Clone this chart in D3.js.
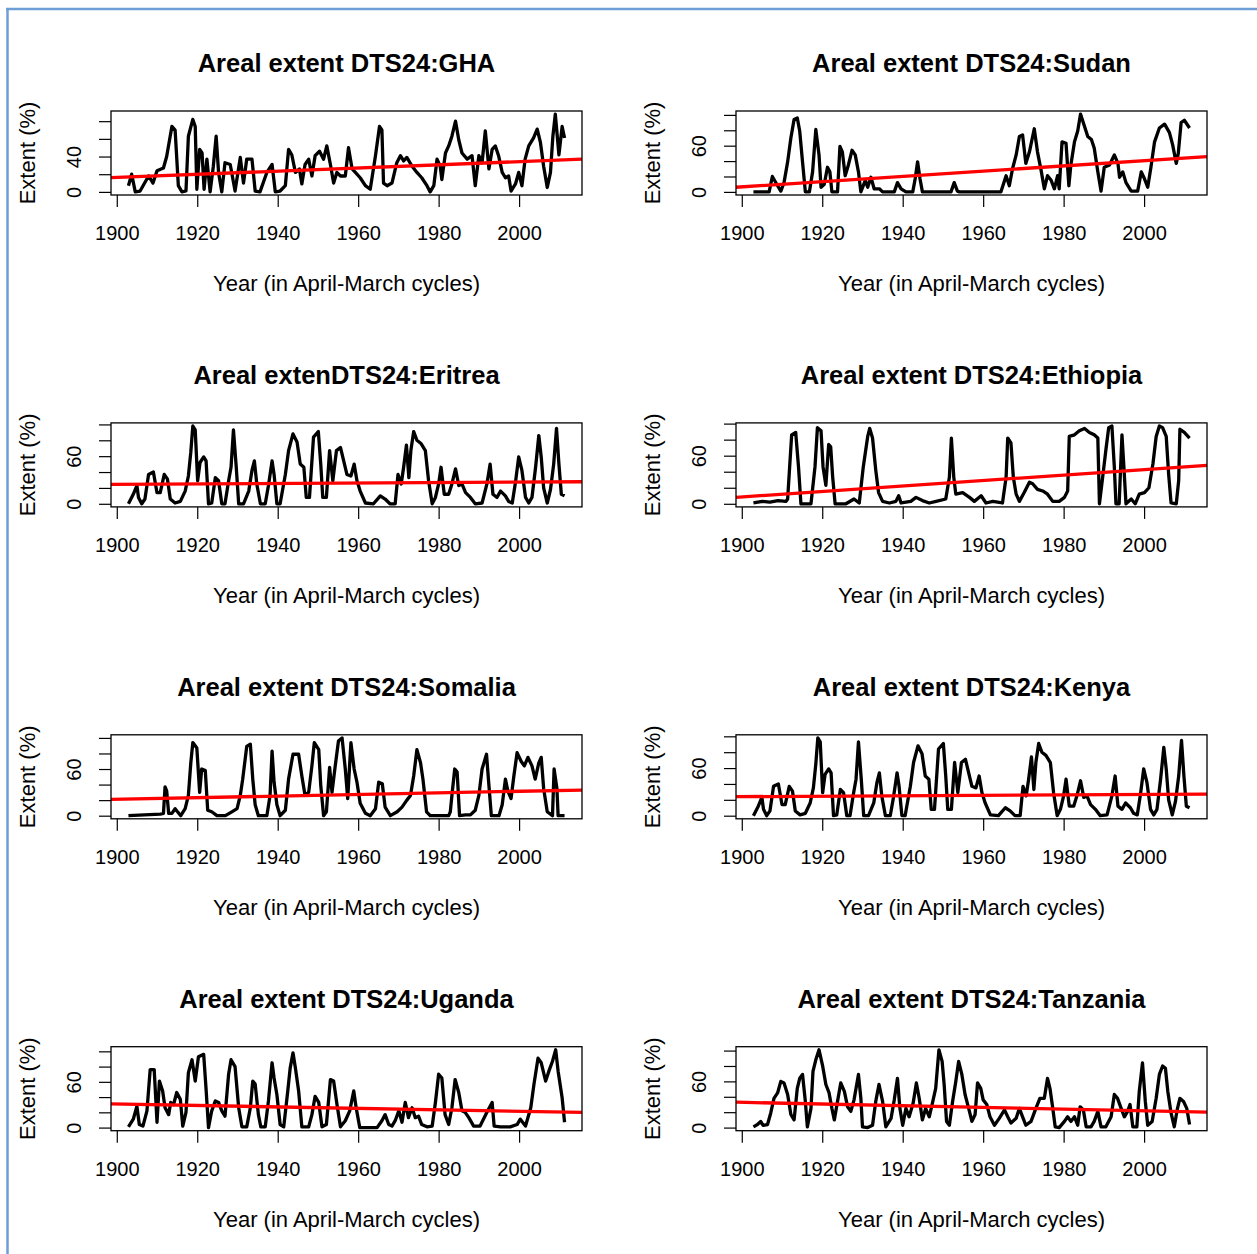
<!DOCTYPE html>
<html>
<head>
<meta charset="utf-8">
<script src="https://cdn.jsdelivr.net/npm/d3@7"></script>
<style>
  body { margin: 0; background: #fff; }
  text { font-family: "Liberation Sans", Arial, sans-serif; fill: #000; }
</style>
</head>
<body>
<div class="chart"></div>
<script>
var svgWidth = 1257;
var svgHeight = 1254;

// panel titles, in plotting order (2 columns x 4 rows)
var titles = [
  "Areal extent DTS24:GHA", "Areal extent DTS24:Sudan",
  "Areal extenDTS24:Eritrea", "Areal extent DTS24:Ethiopia",
  "Areal extent DTS24:Somalia", "Areal extent DTS24:Kenya",
  "Areal extent DTS24:Uganda", "Areal extent DTS24:Tanzania"
];

// [year, extent %]
var ghaSeries = [[1902.9,7],[1903.7,20],[1904.6,0],[1905.8,1],[1907.9,18],[1909,10],[1910,24],[1911.6,27],[1912.4,40],[1913.7,74],[1914.5,70],[1915.3,7],[1916.2,0],[1917.2,1],[1917.8,63],[1918.9,82],[1919.5,74],[1919.9,3],[1920.6,48],[1921.2,44],[1921.7,3],[1922.4,37],[1923.2,0],[1924,29],[1924.7,63],[1925.3,22],[1926.1,0],[1926.9,33],[1928.2,31],[1929.4,1],[1930.7,39],[1931.5,10],[1932.3,37],[1933.6,37],[1934.4,1],[1935.6,0],[1937.3,22],[1938.6,31],[1939.4,0],[1940.6,1],[1941.9,7],[1942.7,48],[1943.5,42],[1944.4,22],[1945.4,26],[1946,9],[1946.8,31],[1947.7,37],[1948.5,18],[1949.3,41],[1950.4,46],[1951.4,37],[1952.2,52],[1953.1,31],[1953.9,10],[1954.7,22],[1955.6,18],[1956.8,18],[1957.6,50],[1958.5,26],[1959.3,22],[1960.5,16],[1961.8,7],[1963,3],[1964.3,41],[1965.3,74],[1965.9,70],[1966.3,10],[1967.2,7],[1968.4,10],[1969.6,33],[1970.5,41],[1971.3,35],[1972.1,39],[1973.4,29],[1974.6,22],[1975.8,16],[1977.1,7],[1977.9,0],[1978.8,7],[1979.6,37],[1980.4,29],[1980.8,14],[1981.7,44],[1982.5,52],[1983.3,63],[1984.2,80],[1985,59],[1985.8,44],[1987.1,37],[1988.3,41],[1989.1,7],[1990,41],[1990.8,33],[1991.6,69],[1992.5,26],[1993.3,48],[1994.1,52],[1994.9,41],[1995.8,22],[1996.6,16],[1997.4,18],[1998,1],[1999.1,9],[1999.9,22],[2000.7,7],[2001.5,37],[2002.4,52],[2003.6,61],[2004.5,71],[2005.3,56],[2006.1,29],[2007,5],[2007.8,22],[2008.4,63],[2009,88],[2009.9,42],[2010.7,74],[2011.3,61]];

var sudanSeries = [[1902.9,0],[1906.8,0],[1907.6,20],[1908.9,8],[1909.7,1],[1910.5,12],[1911.4,39],[1912.2,70],[1913,94],[1913.8,96],[1914.4,79],[1915.1,39],[1915.8,0],[1916.8,0],[1917.6,26],[1918.4,81],[1919.2,48],[1919.7,6],[1920.5,10],[1921.3,32],[1921.9,26],[1922.4,0],[1923.8,0],[1924.4,59],[1925,52],[1925.7,21],[1926.5,35],[1927.4,54],[1928.2,48],[1929,26],[1929.6,0],[1930.7,15],[1931.3,6],[1932.1,19],[1932.9,4],[1934.2,4],[1935,0],[1937.9,0],[1938.7,12],[1939.6,4],[1940.8,0],[1942.5,0],[1943.1,17],[1943.7,39],[1944.3,17],[1944.9,0],[1952,0],[1952.8,12],[1953.6,1],[1954.1,0],[1964.4,0],[1965.7,21],[1966.5,8],[1967.3,30],[1968.2,48],[1969,72],[1969.8,74],[1970.6,37],[1971.5,52],[1972.7,82],[1973.5,52],[1974.4,28],[1975.2,4],[1976,21],[1976.9,15],[1977.7,4],[1978.5,21],[1978.9,4],[1979.6,65],[1980.6,63],[1981.3,8],[1981.8,35],[1982.7,65],[1983.5,79],[1984.2,101],[1985.2,85],[1986,72],[1986.9,68],[1987.6,57],[1988.5,26],[1989.3,1],[1990.1,32],[1991.4,35],[1992.6,48],[1993.5,37],[1993.9,19],[1994.7,26],[1995.5,12],[1996.8,1],[1998.4,1],[1999.3,26],[2000.1,17],[2000.9,6],[2001.7,32],[2002.6,65],[2003.8,83],[2005.1,88],[2006.3,77],[2007.1,61],[2008,37],[2008.5,50],[2009.2,90],[2010,93],[2011.3,83]];

var eritreaSeries = [[1902.9,0],[1904.1,12],[1905,23],[1905.4,8],[1906.2,0],[1907,6],[1907.9,37],[1909.1,40],[1910,14],[1910.8,14],[1911.8,37],[1912.6,31],[1913.3,6],[1914.5,1],[1915.8,3],[1917,16],[1917.8,35],[1918.4,65],[1918.9,98],[1919.5,93],[1920.1,29],[1920.7,52],[1921.6,59],[1922.2,54],[1922.8,0],[1923.6,1],[1924.5,33],[1925.3,29],[1926.1,0],[1926.9,0],[1927.8,29],[1928.4,46],[1929,93],[1929.7,46],[1930.3,0],[1931.5,0],[1932.8,16],[1933.6,42],[1934.2,54],[1934.8,25],[1935.7,0],[1936.9,0],[1937.7,23],[1938.6,54],[1939.1,37],[1939.8,0],[1940.6,0],[1941.9,37],[1942.7,67],[1943.8,88],[1944.8,78],[1945.6,50],[1946.5,46],[1947.1,8],[1947.9,8],[1948.9,84],[1950.1,91],[1950.7,50],[1951.2,8],[1952.1,8],[1952.9,67],[1953.7,29],[1954.6,67],[1955.6,71],[1956.4,54],[1957.2,37],[1958.2,35],[1959,50],[1959.7,29],[1960.5,16],[1961.8,1],[1963.8,0],[1965.5,10],[1966.7,6],[1967.9,0],[1969.2,0],[1969.9,37],[1970.7,25],[1971.3,46],[1972,74],[1972.6,33],[1973.1,67],[1973.8,91],[1974.6,80],[1975.6,76],[1976.7,67],[1977.5,29],[1978.4,0],[1979.2,8],[1980,25],[1980.6,46],[1981.4,12],[1982.5,12],[1983.3,25],[1984.2,44],[1985,23],[1985.8,25],[1986.7,14],[1987.9,8],[1989.1,0],[1990.8,1],[1992,25],[1992.8,50],[1993.5,12],[1994.5,8],[1995.4,16],[1996.6,10],[1997.4,3],[1998.3,1],[1999.1,27],[1999.9,59],[2000.7,42],[2001.6,8],[2002.4,1],[2003.2,8],[2004.1,46],[2004.9,86],[2005.5,59],[2006.1,20],[2007,1],[2007.8,18],[2008.6,50],[2009.3,95],[2009.9,50],[2010.5,12],[2011.3,10]];

var ethiopiaSeries = [[1902.9,1],[1905.1,3],[1907,2],[1909,4],[1911,3],[1911.4,6],[1911.9,46],[1912.4,86],[1913.4,89],[1914.1,46],[1914.7,0],[1917.2,0],[1918.2,46],[1918.8,95],[1919.7,91],[1920.2,46],[1920.9,23],[1921.6,74],[1922.1,71],[1922.6,33],[1923.2,0],[1925.9,0],[1927.9,6],[1929.2,1],[1930.2,46],[1931.3,84],[1931.8,94],[1932.5,82],[1933.3,42],[1934,14],[1935,3],[1936.7,1],[1938.3,3],[1939,10],[1939.6,1],[1942,3],[1943.3,8],[1944.9,4],[1946.6,1],[1948.3,3],[1950.7,6],[1951.6,33],[1952.1,82],[1952.7,33],[1953.2,12],[1954.9,14],[1956.6,8],[1957.8,3],[1959.5,10],[1960.7,1],[1962.4,3],[1964.8,1],[1965.7,33],[1966.1,82],[1966.9,76],[1967.5,33],[1968.2,12],[1969,3],[1970.2,14],[1971.5,27],[1972.3,25],[1973.5,18],[1974.8,16],[1976,12],[1977.3,3],[1978.9,3],[1980.2,8],[1981,16],[1981.4,84],[1982.7,86],[1983.9,91],[1985.2,94],[1986.4,89],[1987.6,86],[1988.5,82],[1988.9,0],[1989.7,33],[1990.5,67],[1991.2,95],[1992,97],[1992.6,46],[1993,0],[1993.8,0],[1994.5,86],[1995,44],[1995.5,0],[1996.8,6],[1997.8,0],[1998.8,12],[2000.1,14],[2001.2,20],[2002.2,50],[2003,84],[2003.8,97],[2004.6,95],[2005.5,84],[2006.1,37],[2006.7,1],[2008,0],[2008.6,29],[2008.9,93],[2010,89],[2011.3,82]];

var somaliaSeries = [[1902.9,0],[1910.8,2],[1911.6,3],[1912,37],[1912.4,32],[1912.9,3],[1913.7,3],[1914.5,9],[1915.1,5],[1915.9,0],[1917,9],[1917.8,26],[1918.4,68],[1918.9,94],[1919.9,87],[1920.6,30],[1921.1,60],[1922,58],[1922.6,7],[1923.6,5],[1924.9,0],[1927,0],[1928.6,5],[1929.9,9],[1930.7,26],[1931.3,47],[1932.3,89],[1933.2,92],[1933.8,47],[1934.4,14],[1935.2,0],[1937.3,0],[1938.1,26],[1938.6,83],[1939.1,43],[1939.8,14],[1940.6,0],[1941.9,7],[1942.7,47],[1943.8,79],[1945.2,79],[1946,51],[1946.8,26],[1947.7,30],[1948.5,64],[1949.1,94],[1950.2,85],[1950.7,39],[1951.4,0],[1952.1,5],[1952.9,62],[1953.5,30],[1954.3,64],[1955.1,96],[1956,100],[1956.8,60],[1957.4,22],[1958.2,94],[1959,60],[1959.7,43],[1960.5,16],[1961.8,3],[1963,0],[1964.3,9],[1965.1,43],[1966,41],[1966.7,11],[1968,0],[1969.7,5],[1970.9,11],[1972.1,20],[1973,26],[1973.8,51],[1974.6,85],[1975.5,68],[1976.1,47],[1977,5],[1977.9,0],[1982.5,0],[1982.9,5],[1983.3,26],[1984,60],[1984.6,56],[1985.2,0],[1986.7,1],[1987.9,1],[1989.1,7],[1990,26],[1990.8,60],[1991.9,79],[1992.5,39],[1993.1,0],[1995,0],[1995.8,14],[1996.6,47],[1997.2,32],[1998,22],[1998.7,51],[1999.5,81],[2000.5,70],[2001.3,64],[2002.2,75],[2003.2,64],[2004,47],[2004.9,68],[2005.5,75],[2006.1,35],[2007,5],[2008.3,0],[2008.7,60],[2009.4,35],[2009.7,0],[2011.3,0]];

var kenyaSeries = [[1902.9,0],[1904.1,12],[1905,23],[1905.4,8],[1906.2,0],[1907,6],[1907.9,37],[1909.1,40],[1910,14],[1910.8,14],[1911.8,37],[1912.6,31],[1913.3,6],[1914.5,1],[1915.8,3],[1917,16],[1917.8,35],[1918.4,65],[1918.9,98],[1919.5,93],[1920.1,29],[1920.7,52],[1921.6,59],[1922.2,54],[1922.8,0],[1923.6,1],[1924.5,33],[1925.3,29],[1926.1,0],[1926.9,0],[1927.8,29],[1928.4,46],[1929,93],[1929.7,46],[1930.3,0],[1931.5,0],[1932.8,16],[1933.6,42],[1934.2,54],[1934.8,25],[1935.7,0],[1936.9,0],[1937.7,23],[1938.6,54],[1939.1,37],[1939.8,0],[1940.6,0],[1941.9,37],[1942.7,67],[1943.8,88],[1944.8,78],[1945.6,50],[1946.5,46],[1947.1,8],[1947.9,8],[1948.9,84],[1950.1,91],[1950.7,50],[1951.2,8],[1952.1,8],[1952.9,67],[1953.7,29],[1954.6,67],[1955.6,71],[1956.4,54],[1957.2,37],[1958.2,35],[1959,50],[1959.7,29],[1960.5,16],[1961.8,1],[1963.8,0],[1965.5,10],[1966.7,6],[1967.9,0],[1969.2,0],[1969.9,37],[1970.7,25],[1971.3,46],[1972,74],[1972.6,33],[1973.1,67],[1973.8,91],[1974.6,80],[1975.6,76],[1976.7,67],[1977.5,29],[1978.4,0],[1979.2,8],[1980,25],[1980.6,46],[1981.4,12],[1982.5,12],[1983.3,25],[1984.2,44],[1985,23],[1985.8,25],[1986.7,14],[1987.9,8],[1989.1,0],[1990.8,1],[1992,25],[1992.8,50],[1993.5,12],[1994.5,8],[1995.4,16],[1996.6,10],[1997.4,3],[1998.3,1],[1999.1,27],[1999.9,59],[2000.7,42],[2001.6,8],[2002.4,1],[2003.2,8],[2004.1,46],[2004.9,86],[2005.5,59],[2006.1,20],[2007,1],[2007.8,18],[2008.6,50],[2009.3,95],[2009.9,50],[2010.5,12],[2011.3,10]];

var ugandaSeries = [[1902.9,1],[1904.1,11],[1905,28],[1905.6,4],[1906.5,2],[1907.5,22],[1908.3,76],[1909.3,76],[1910,7],[1910.6,61],[1911.4,48],[1912,26],[1912.9,17],[1913.4,33],[1914.1,30],[1914.9,46],[1915.8,37],[1916.4,2],[1917.2,20],[1917.8,72],[1918.7,89],[1919.5,61],[1920.3,93],[1921.6,96],[1922.2,50],[1922.8,0],[1923.6,22],[1924.5,35],[1925.3,33],[1926.1,22],[1926.9,15],[1927.8,70],[1928.4,89],[1929.4,80],[1930.3,26],[1931.1,1],[1932.3,1],[1933.2,26],[1933.8,61],[1934.4,57],[1935.2,17],[1935.8,1],[1936.9,1],[1937.7,35],[1938.6,85],[1939.1,65],[1939.8,43],[1940.6,4],[1941.5,1],[1942.5,48],[1943.1,78],[1943.8,98],[1944.4,78],[1945.2,48],[1946,1],[1947.7,1],[1948.5,17],[1949.3,41],[1950.2,33],[1951,1],[1952.1,4],[1953.1,63],[1953.9,61],[1954.8,28],[1955.6,1],[1956.8,9],[1957.9,22],[1958.9,48],[1959.5,26],[1960.4,0],[1964.7,0],[1965.9,9],[1966.7,17],[1967.6,4],[1968.4,2],[1969.2,9],[1970.1,22],[1970.9,7],[1971.7,33],[1972.5,13],[1973.4,26],[1974.2,13],[1975,15],[1975.8,4],[1977.1,1],[1978.4,2],[1979.2,33],[1980,70],[1980.8,65],[1981.6,17],[1982.5,4],[1983.3,26],[1984.1,63],[1985,46],[1985.8,22],[1986.6,20],[1987.5,13],[1988.7,2],[1990.3,2],[1992,20],[1993.3,33],[1993.8,2],[1995.4,1],[1997.8,1],[1999.5,4],[2000.3,11],[2001.6,2],[2002.9,26],[2003.7,57],[2004.7,91],[2005.5,85],[2006.6,61],[2007.4,74],[2008.3,87],[2009.1,102],[2009.7,74],[2010.7,39],[2011.3,7]];

var tanzaniaSeries = [[1902.9,1],[1903.9,4],[1904.7,8],[1905.3,3],[1906.4,4],[1907.2,19],[1908,38],[1908.9,45],[1909.7,60],[1910.5,58],[1911.4,43],[1912.2,17],[1913,10],[1913.8,51],[1914.4,64],[1915.1,69],[1915.8,34],[1916.3,1],[1917.2,25],[1917.7,73],[1918.4,88],[1919.2,101],[1920.1,80],[1920.9,56],[1921.7,45],[1922.4,25],[1923,10],[1923.8,34],[1924.6,58],[1925.5,47],[1926.3,27],[1927.1,21],[1927.9,36],[1929,69],[1929.6,38],[1930,1],[1931.3,0],[1932.5,3],[1933.3,34],[1934.1,56],[1935,34],[1935.8,1],[1937.1,12],[1937.9,36],[1938.7,64],[1939.3,25],[1940,3],[1940.8,25],[1941.6,14],[1942.6,32],[1943.4,58],[1944.1,38],[1944.9,10],[1945.7,25],[1946.6,14],[1947.4,32],[1948.2,51],[1949,101],[1949.8,86],[1950.3,56],[1950.9,8],[1951.6,3],[1952.4,34],[1953.2,60],[1953.9,86],[1954.7,69],[1955.5,43],[1956.4,25],[1957.2,8],[1958,17],[1958.6,58],[1959.4,51],[1960,36],[1960.9,30],[1961.7,14],[1962.8,3],[1964,12],[1965.3,23],[1966.1,14],[1966.9,6],[1968.2,12],[1969,25],[1969.8,14],[1970.6,3],[1971.9,8],[1973.1,25],[1974.1,38],[1975.2,38],[1976,64],[1976.6,51],[1977.3,25],[1977.9,1],[1978.9,0],[1980.2,8],[1981,14],[1981.8,8],[1982.7,14],[1983.5,3],[1984.1,27],[1984.9,23],[1985.6,1],[1986.8,1],[1987.6,8],[1988.5,21],[1989.3,1],[1990.5,1],[1991.8,14],[1992.6,43],[1993.4,38],[1994.3,25],[1995.1,14],[1995.9,21],[1996.5,30],[1997.2,1],[1998.2,1],[1998.8,47],[1999.6,84],[2000.3,34],[2000.9,3],[2002,8],[2003,38],[2003.8,69],[2004.6,80],[2005.3,77],[2005.9,47],[2006.7,19],[2007.5,1],[2008.3,25],[2008.9,38],[2009.8,34],[2010.6,25],[2011.3,4]];

var seriesList = [ghaSeries, sudanSeries, eritreaSeries, ethiopiaSeries,
                  somaliaSeries, kenyaSeries, ugandaSeries, tanzaniaSeries];

// red trend line: fitted value in 1900 and in 2010
var trend1900 = [16.3, 6.5, 24.5, 8.5, 21.1, 24.0, 30.9, 32.8];
var trend2010 = [36.0, 44.0, 27.6, 46.0, 32.4, 27.0, 20.5, 20.6];

// layout (par(mfrow = c(4, 2)) look)
var boxLeft = [111, 736];
var boxTop = 111;
var rowStep = 311.9;
var boxW = 471;
var boxH = 84;

var svg = d3.select(".chart")
  .append("svg")
  .attr("width", svgWidth)
  .attr("height", svgHeight);

svg.append("rect").attr("width", svgWidth).attr("height", svgHeight).attr("fill", "#fff");

// window frame from the screenshot
svg.append("line").attr("x1", 6).attr("x2", svgWidth).attr("y1", 9).attr("y2", 9)
  .attr("stroke", "#6d9fd6").attr("stroke-width", 2.5);
svg.append("line").attr("x1", 7.5).attr("x2", 7.5).attr("y1", 8).attr("y2", svgHeight)
  .attr("stroke", "#6d9fd6").attr("stroke-width", 2.5);

// R style range: data extent +- 4%
function pad(ext) {
  var r = ext[1] - ext[0];
  return [ext[0] - 0.04 * r, ext[1] + 0.04 * r];
}

var allYears = d3.merge(seriesList).map(d => d[0]);
var xDomain = pad(d3.extent(allYears));

seriesList.forEach(function (series, i) {
  var col = i % 2, row = Math.floor(i / 2);
  var g = svg.append("g")
    .attr("transform", `translate(${boxLeft[col]}, ${boxTop + row * rowStep})`);

  var x = d3.scaleLinear().domain(xDomain).range([0, boxW]);
  var y = d3.scaleLinear().domain(pad([0, d3.max(series, d => d[1])])).range([boxH, 0]);

  var line = d3.line().x(d => x(d[0])).y(d => y(d[1]));

  g.append("path")
    .datum(series)
    .attr("d", line)
    .attr("fill", "none")
    .attr("stroke", "#000")
    .attr("stroke-width", 3.3)
    .attr("stroke-linejoin", "round");

  // trend line across the whole plot
  var slope = (trend2010[i] - trend1900[i]) / 110;
  var trendPts = xDomain.map(yr => [yr, trend1900[i] + slope * (yr - 1900)]);
  g.append("path")
    .datum(trendPts)
    .attr("d", line)
    .attr("stroke", "#ff0000")
    .attr("stroke-width", 3.3);

  g.append("rect")
    .attr("width", boxW).attr("height", boxH)
    .attr("fill", "none").attr("stroke", "#000").attr("stroke-width", 1.3);

  // x axis
  var xAxis = g.append("g")
    .attr("transform", `translate(0, ${boxH})`)
    .call(d3.axisBottom(x).ticks(5).tickSize(12).tickPadding(19).tickSizeOuter(0).tickFormat(d3.format("d")));
  xAxis.select(".domain").remove();

  // y axis, labels parallel to the axis
  var yAxis = g.append("g")
    .call(d3.axisLeft(y).ticks(5).tickSize(12).tickSizeOuter(0));
  yAxis.select(".domain").remove();
  yAxis.selectAll(".tick text")
    .attr("x", 0).attr("dy", null)
    .attr("text-anchor", "middle")
    .attr("transform", "translate(-30,0) rotate(-90)");

  [xAxis, yAxis].forEach(function (a) {
    a.attr("font-size", 20).attr("font-family", null);
    a.selectAll(".tick line").attr("stroke-width", 1.2);
  });

  // drop y labels that would crowd the previous one (R's gap.axis)
  var last = null;
  yAxis.selectAll(".tick").each(function (v) {
    var t = d3.select(this).select("text");
    var w = t.node().getComputedTextLength();
    var pos = y(v);
    if (last && Math.abs(last.pos - pos) < last.w / 2 + w / 2 + 16.7) {
      t.remove();
    } else {
      last = { pos: pos, w: w };
    }
  });

  g.append("text")
    .attr("x", boxW / 2).attr("y", -39)
    .attr("text-anchor", "middle")
    .attr("font-size", 25.5).attr("font-weight", "bold")
    .text(titles[i]);

  g.append("text")
    .attr("x", boxW / 2).attr("y", boxH + 96)
    .attr("text-anchor", "middle")
    .attr("font-size", 22)
    .text("Year (in April-March cycles)");

  g.append("text")
    .attr("transform", `translate(-76, ${boxH / 2}) rotate(-90)`)
    .attr("text-anchor", "middle")
    .attr("font-size", 22)
    .text("Extent (%)");
});
</script>
</body>
</html>
